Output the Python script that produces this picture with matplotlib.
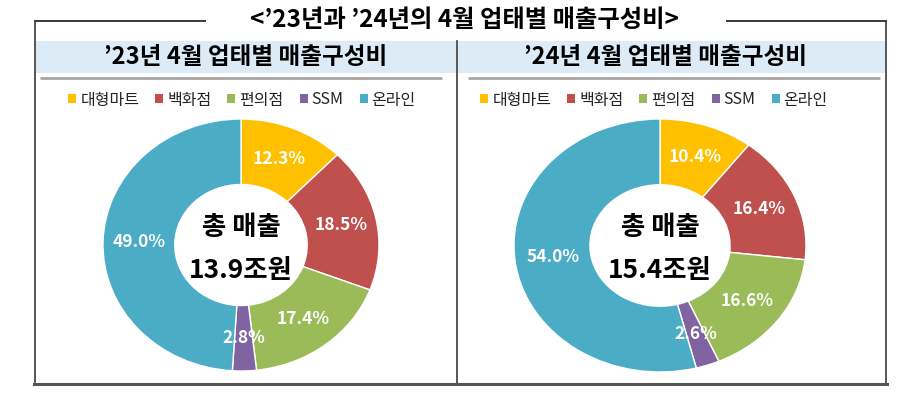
import matplotlib
matplotlib.use('Agg')
import matplotlib.pyplot as plt
from matplotlib.patches import Rectangle, Patch

plt.rcParams['font.family'] = ['Noto Sans CJK KR', 'DejaVu Sans']

categories = ['대형마트', '백화점', '편의점', 'SSM', '온라인']
share_2023 = [12.3, 18.5, 17.4, 2.8, 49.0]
share_2024 = [10.4, 16.4, 16.6, 2.6, 54.0]
totals = ['13.9조원', '15.4조원']
colors = ['#FFC000', '#C0504D', '#9BBB59', '#8064A2', '#4BACC6']
main_title = "<\u201923년과 \u201924년의 4월 업태별 매출구성비>"
panel_titles = ["\u201923년 4월 업태별 매출구성비", "\u201924년 4월 업태별 매출구성비"]
center_label = '총 매출'

W, H = 899, 397
fig = plt.figure(figsize=(W / 100, H / 100), dpi=100)
fig.patch.set_facecolor('white')

bg = fig.add_axes([0, 0, 1, 1])
bg.set_xlim(0, W)
bg.set_ylim(H, 0)
bg.axis('off')

dark = '#3a3a3a'
# header bands
bg.add_patch(Rectangle((36, 41), 420, 32, facecolor='#DDEBF7', edgecolor='none'))
bg.add_patch(Rectangle((458, 41), 427, 32, facecolor='#DDEBF7', edgecolor='none'))
# grey separators below bands
bg.plot([40, 442], [77.5, 77.5], color='#A6A6A6', lw=2, solid_capstyle='butt')
bg.plot([468, 880], [77.5, 77.5], color='#A6A6A6', lw=2, solid_capstyle='butt')
# title lines and borders
bg.plot([35, 205], [21, 21], color=dark, lw=1.4)
bg.plot([727, 886], [21, 21], color=dark, lw=1.4)
bg.plot([35, 35], [21, 384], color=dark, lw=1.2)
bg.plot([886, 886], [21, 384], color=dark, lw=1.2)
bg.plot([457, 457], [41, 384], color=dark, lw=1.2)
bg.plot([34, 887], [384, 384], color='#555555', lw=2.2)

bg.text(464, 20, main_title, ha='center', va='center', fontsize=17.5,
        fontweight='bold', color='black')
bg.text(246, 57, panel_titles[0], ha='center', va='center', fontsize=17,
        fontweight='bold', color='black')
bg.text(665, 57, panel_titles[1], ha='center', va='center', fontsize=17,
        fontweight='bold', color='black')

handles = [Patch(facecolor=c, edgecolor='none') for c in colors]


def donut(rect, shares, total, legend_cx):
    ax = fig.add_axes(rect)
    wedges, _, autotexts = ax.pie(
        shares, colors=colors, startangle=90, counterclock=False,
        wedgeprops=dict(width=0.52, edgecolor='white', linewidth=1.0),
        autopct=lambda p: f'{p:.1f}%', pctdistance=0.74,
        textprops=dict(color='white', fontsize=12.5, fontweight='bold'))
    ax.set_aspect('auto')
    ax.set_xlim(-1, 1)
    ax.set_ylim(-1, 1)
    ax.text(0, 0.14, center_label, ha='center', va='center', fontsize=19,
            fontweight='bold', color='black')
    ax.text(0, -0.2, total, ha='center', va='center', fontsize=19,
            fontweight='bold', color='black')
    fig.legend(handles, categories, loc='center', ncol=5,
               bbox_to_anchor=(legend_cx / W, 1 - 100 / H),
               bbox_transform=fig.transFigure, frameon=False,
               fontsize=11.5, handlelength=0.5, handleheight=0.5,
               handletextpad=0.25, columnspacing=1.0, labelcolor='#222222')
    return ax


donut([103 / W, 1 - 371 / H, 276 / W, 252 / H], share_2023, totals[0], 242)
donut([514 / W, 1 - 372 / H, 292 / W, 253 / H], share_2024, totals[1], 654)

fig.savefig('out.png', dpi=100, facecolor='white')
